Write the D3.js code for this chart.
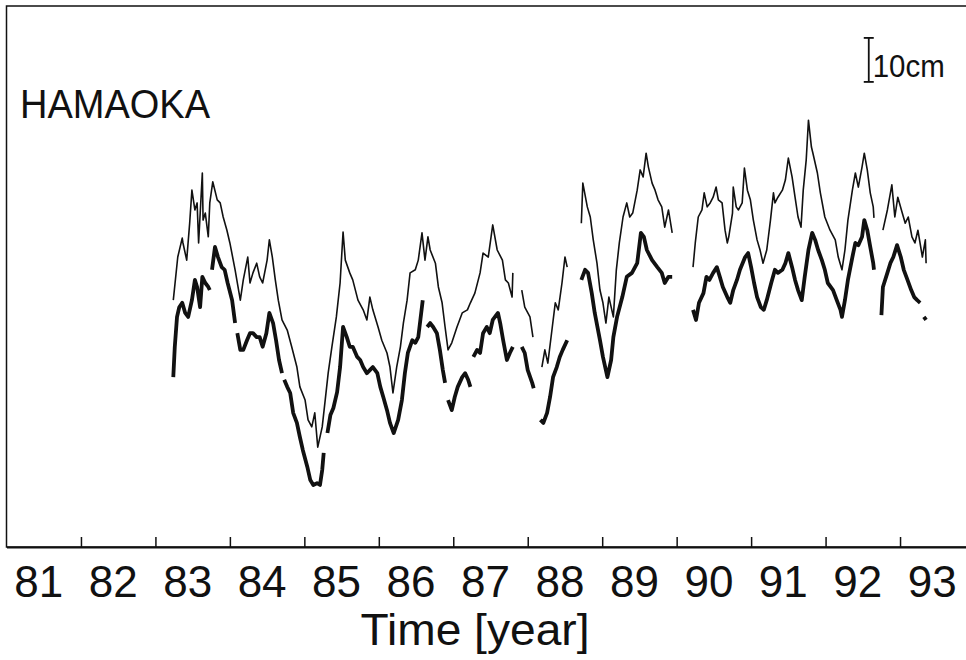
<!DOCTYPE html>
<html lang="en">
<head>
    <meta charset="UTF-8">
    <script src="https://cdn.jsdelivr.net/npm/d3@7/dist/d3.min.js"></script>
    <title>HAMAOKA sea level</title>

    <style>
        body {
            margin: 0;
            background: #fff;
        }
        svg {
            display: block;
            font-family: "Liberation Sans", Arial, Helvetica, sans-serif;
        }
    </style>

</head>
<body>
<script>
// station and labels
let station = "HAMAOKA"
let axisTitle = "Time [year]"
let tickYears = [1981, 1982, 1983, 1984, 1985, 1986, 1987, 1988, 1989, 1990, 1991, 1992, 1993]
let tickLabels = ["81", "82", "83", "84", "85", "86", "87", "88", "89", "90", "91", "92", "93"]
let tickBounds = [1982, 1983, 1984, 1985, 1986, 1987, 1988, 1989, 1990, 1991, 1992, 1993]

// scale bar (cm)
let scaleBarYear = 1992.58
let scaleBarFrom = 105.7
let scaleBarLength = 10
let scaleBarText = "10cm"

// thin trace: [year, level in cm], null = no data
let thinTrace = [
    [1983.24, 56.1], [1983.30, 65.9], [1983.36, 70.2], [1983.37, 69.1], [1983.42, 65.2], [1983.46, 73.6],
    [1983.49, 81.1], [1983.53, 76.6], [1983.56, 78.2], [1983.58, 69.1], [1983.63, 85.0], [1983.64, 74.3],
    [1983.67, 75.9], [1983.71, 70.5], [1983.73, 78.2], [1983.77, 83.0], [1983.83, 78.9], [1983.87, 78.2],
    [1983.91, 75.0], [1983.96, 72.0], [1984.00, 69.1], [1984.07, 63.0], [1984.14, 56.1], [1984.18, 60.7],
    [1984.24, 65.9], [1984.27, 60.0], [1984.31, 62.3], [1984.36, 64.5], [1984.40, 61.4], [1984.44, 60.0],
    [1984.50, 65.2], [1984.53, 69.8], [1984.57, 65.9], [1984.61, 60.7], [1984.65, 56.1], [1984.70, 51.6],
    [1984.77, 49.3], [1984.83, 45.5], [1984.90, 40.9], [1984.94, 36.4], [1985.01, 33.4], [1985.05, 28.9],
    [1985.10, 27.3], [1985.14, 30.5], [1985.18, 22.7], [1985.24, 27.3], [1985.28, 33.4], [1985.32, 39.5],
    [1985.37, 45.5], [1985.43, 52.3], [1985.48, 60.0], [1985.52, 71.6], [1985.55, 65.2], [1985.61, 62.3],
    [1985.65, 60.7], [1985.72, 56.1], [1985.79, 53.9], [1985.84, 51.6], [1985.88, 56.8], [1985.92, 53.9],
    [1985.99, 50.0], [1986.04, 47.0], [1986.11, 44.1], [1986.15, 40.9], [1986.19, 35.0], [1986.24, 40.9],
    [1986.29, 45.5], [1986.33, 50.9], [1986.38, 56.1], [1986.42, 62.3], [1986.49, 63.0], [1986.53, 65.2],
    [1986.58, 71.4], [1986.62, 65.2], [1986.66, 70.5], [1986.69, 67.5], [1986.76, 64.5], [1986.80, 59.1],
    [1986.85, 55.5], [1986.89, 50.0], [1986.93, 44.8], [1986.98, 46.4], [1987.05, 50.0], [1987.12, 53.2],
    [1987.19, 53.9], [1987.23, 55.5], [1987.29, 57.7], [1987.36, 62.3], [1987.40, 66.8], [1987.47, 65.9],
    [1987.53, 73.2], [1987.59, 67.5], [1987.66, 65.2], [1987.70, 60.7], [1987.74, 60.0], [1987.79, 56.8],
    [1987.80, 62.3],
    null,
    [1987.92, 58.4], [1987.96, 54.5], [1988.03, 52.3], [1988.07, 47.7],
    null,
    [1988.19, 40.9], [1988.23, 44.8], [1988.27, 41.8], [1988.33, 50.0], [1988.37, 55.5], [1988.41, 53.9],
    [1988.46, 60.0], [1988.50, 65.9], [1988.53, 63.6],
    null,
    [1988.72, 73.6], [1988.74, 82.7], [1988.80, 77.3], [1988.84, 75.0], [1988.88, 69.8], [1988.93, 64.5],
    [1988.97, 58.4], [1989.01, 55.5], [1989.05, 50.9], [1989.09, 56.8], [1989.15, 52.3], [1989.19, 63.0],
    [1989.23, 69.1], [1989.28, 75.0], [1989.33, 78.2], [1989.37, 75.0], [1989.41, 75.9], [1989.47, 81.1],
    [1989.51, 85.7], [1989.55, 84.1], [1989.59, 89.5], [1989.62, 86.4], [1989.67, 82.7], [1989.71, 81.1],
    [1989.75, 78.9], [1989.80, 77.3], [1989.84, 72.7], [1989.89, 76.6], [1989.94, 71.4],
    null,
    [1990.22, 63.6], [1990.25, 69.1], [1990.29, 75.0], [1990.34, 76.6], [1990.37, 80.5], [1990.41, 77.3],
    [1990.45, 78.2], [1990.49, 79.5], [1990.53, 81.8], [1990.56, 78.9], [1990.61, 78.2], [1990.65, 72.0],
    [1990.68, 69.1], [1990.70, 70.5], [1990.75, 75.9], [1990.76, 81.8], [1990.80, 77.3], [1990.83, 76.6],
    [1990.88, 78.2], [1990.91, 86.1], [1990.95, 81.1], [1990.99, 78.9], [1991.03, 74.3], [1991.08, 69.8],
    [1991.12, 67.5], [1991.16, 64.5], [1991.21, 67.5], [1991.26, 74.3], [1991.30, 80.5], [1991.32, 78.2],
    [1991.36, 79.5], [1991.42, 81.1], [1991.46, 83.4], [1991.50, 88.4], [1991.55, 84.1], [1991.59, 79.5],
    [1991.63, 75.0], [1991.67, 72.7], [1991.70, 81.1], [1991.74, 88.0], [1991.77, 97.0], [1991.81, 90.9],
    [1991.83, 89.5], [1991.89, 85.0], [1991.93, 80.5], [1991.99, 75.0], [1992.06, 72.0], [1992.13, 69.8],
    [1992.17, 65.9], [1992.22, 63.0], [1992.26, 67.5], [1992.30, 74.3], [1992.36, 81.1], [1992.40, 85.0],
    [1992.44, 81.8], [1992.49, 86.4], [1992.52, 89.5], [1992.56, 85.7], [1992.60, 80.5], [1992.64, 77.3],
    [1992.65, 74.8],
    null,
    [1992.77, 72.0], [1992.83, 76.6], [1992.89, 82.3], [1992.93, 75.0], [1992.97, 79.5], [1993.03, 75.9],
    [1993.07, 73.6], [1993.11, 75.0], [1993.16, 70.5], [1993.20, 69.1], [1993.24, 72.0], [1993.30, 65.9],
    [1993.34, 69.8], [1993.35, 64.5]
]

// thick trace: [year, level in cm], null = no data
let thickTrace = [
    [1983.24, 38.6], [1983.26, 45.5], [1983.29, 52.3], [1983.32, 54.5], [1983.36, 55.5], [1983.40, 53.2],
    [1983.44, 52.3], [1983.49, 56.1], [1983.53, 60.7], [1983.56, 59.1], [1983.60, 54.5], [1983.63, 61.4],
    [1983.67, 60.0], [1983.71, 59.1], [1983.73, 58.4],
    null,
    [1983.76, 63.0], [1983.80, 68.2], [1983.84, 65.9], [1983.89, 63.6], [1983.93, 63.0], [1983.97, 60.0],
    [1984.03, 56.1], [1984.07, 50.9],
    null,
    [1984.10, 48.6], [1984.14, 44.8], [1984.18, 44.8], [1984.23, 47.0], [1984.27, 48.6], [1984.31, 48.6],
    [1984.36, 47.7], [1984.40, 47.7], [1984.44, 45.5], [1984.49, 48.6], [1984.53, 53.2], [1984.58, 50.9],
    [1984.62, 47.0], [1984.66, 42.5], [1984.70, 39.5],
    null,
    [1984.73, 38.0], [1984.77, 36.4], [1984.81, 35.0], [1984.85, 30.5], [1984.90, 28.2], [1984.94, 25.0],
    [1984.98, 22.0], [1985.04, 18.2], [1985.08, 15.2], [1985.12, 14.1], [1985.17, 14.5], [1985.21, 14.1],
    [1985.24, 17.5], [1985.26, 21.4],
    null,
    [1985.31, 25.9], [1985.35, 30.0], [1985.39, 31.6], [1985.44, 35.2], [1985.48, 40.9], [1985.52, 50.0],
    [1985.57, 47.7], [1985.61, 45.5], [1985.65, 45.5], [1985.71, 43.2], [1985.75, 42.5], [1985.79, 40.9],
    [1985.84, 39.5], [1985.88, 40.2], [1985.92, 40.9], [1985.98, 39.5], [1986.02, 36.4], [1986.06, 34.1],
    [1986.11, 31.1], [1986.15, 28.2], [1986.20, 25.9], [1986.26, 28.9], [1986.31, 33.4], [1986.35, 39.5],
    [1986.39, 44.1], [1986.45, 47.0], [1986.49, 46.4], [1986.53, 47.7], [1986.59, 56.1],
    null,
    [1986.65, 50.0], [1986.69, 50.9], [1986.73, 50.0], [1986.78, 48.6], [1986.82, 44.8], [1986.86, 40.2],
    [1986.89, 37.3],
    null,
    [1986.93, 33.4], [1986.98, 31.1], [1987.02, 34.1], [1987.06, 36.4], [1987.12, 38.6], [1987.16, 39.5],
    [1987.20, 38.0], [1987.23, 36.4],
    null,
    [1987.27, 43.2], [1987.32, 44.8], [1987.36, 44.1], [1987.40, 48.6], [1987.45, 50.0], [1987.49, 48.6],
    [1987.53, 51.6], [1987.60, 53.2], [1987.63, 50.9], [1987.67, 47.0], [1987.72, 42.5], [1987.76, 44.1],
    [1987.80, 45.5],
    null,
    [1987.92, 45.5], [1987.96, 44.1], [1988.00, 40.2], [1988.06, 37.3], [1988.08, 36.1],
    null,
    [1988.17, 28.9], [1988.21, 28.2], [1988.26, 30.5], [1988.30, 34.1], [1988.34, 38.6], [1988.39, 40.9],
    [1988.43, 43.2], [1988.47, 44.8], [1988.53, 47.0],
    null,
    [1988.72, 60.7], [1988.77, 63.0], [1988.81, 62.3], [1988.86, 57.7], [1988.90, 53.2], [1988.97, 47.0],
    [1989.01, 43.2], [1989.07, 38.6], [1989.12, 42.5], [1989.15, 47.7], [1989.20, 52.3], [1989.27, 56.8],
    [1989.33, 61.4], [1989.40, 62.3], [1989.47, 64.5], [1989.52, 71.4], [1989.56, 70.5], [1989.60, 67.5],
    [1989.67, 65.2], [1989.74, 63.6], [1989.80, 62.3], [1989.84, 60.0], [1989.89, 61.4], [1989.94, 61.4],
    null,
    [1990.22, 53.9], [1990.26, 51.6], [1990.30, 55.5], [1990.36, 57.7], [1990.40, 61.4], [1990.44, 60.7],
    [1990.49, 62.3], [1990.54, 63.6], [1990.58, 61.4], [1990.62, 59.1], [1990.68, 56.8], [1990.72, 55.5],
    [1990.76, 58.4], [1990.81, 60.7], [1990.85, 63.0], [1990.92, 65.9], [1990.96, 66.8], [1991.00, 63.6],
    [1991.04, 60.0], [1991.08, 56.8], [1991.13, 54.5], [1991.17, 53.9], [1991.21, 56.1], [1991.27, 60.0],
    [1991.32, 63.0], [1991.36, 62.3], [1991.42, 63.0], [1991.46, 64.5], [1991.50, 66.8], [1991.55, 63.6],
    [1991.59, 60.7], [1991.63, 58.4], [1991.68, 56.1], [1991.72, 61.4], [1991.77, 67.5], [1991.82, 71.4],
    [1991.86, 69.8], [1991.90, 67.5], [1991.95, 65.2], [1991.99, 63.0], [1992.03, 60.0], [1992.10, 58.4],
    [1992.15, 56.1], [1992.20, 53.9], [1992.22, 52.3], [1992.26, 56.1], [1992.30, 60.7], [1992.36, 65.9],
    [1992.40, 69.1], [1992.44, 68.6], [1992.49, 70.5], [1992.52, 74.3], [1992.56, 72.0], [1992.60, 68.2],
    [1992.64, 64.5], [1992.65, 63.0],
    null,
    [1992.75, 52.7], [1992.77, 59.1], [1992.83, 62.3], [1992.87, 64.5], [1992.91, 65.9], [1992.96, 68.6],
    [1993.01, 65.9], [1993.05, 63.0], [1993.10, 60.7], [1993.15, 58.4], [1993.19, 56.8], [1993.23, 56.1],
    [1993.27, 55.5],
    null,
    [1993.32, 52.3], [1993.35, 51.6]
]

let width = 966
let height = 660
let frameTop = 6
let ink = "#111"

let svg = d3.select("body").append("svg")
    .attr("width", width)
    .attr("height", height)

// the box runs past the right edge of the page, like the scan
let x = d3.scaleLinear()
    .domain([1981, 1994])
    .range([6.5, 974.5])

let y = d3.scaleLinear()
    .domain([0, 120])
    .range([547, 19])

svg.append("rect")
    .attr("x", x(1981))
    .attr("y", frameTop)
    .attr("width", x(1994) - x(1981))
    .attr("height", y(0) - frameTop)
    .attr("fill", "none")
    .attr("stroke", ink)
    .attr("stroke-width", 1.5)

let axis = d3.axisBottom(x)
    .tickValues(tickBounds)
    .tickSizeInner(-10)
    .tickSizeOuter(0)
    .tickFormat("")

svg.append("g")
    .attr("transform", `translate(0,${y(0)})`)
    .call(axis)
    .call(g => g.select(".domain").attr("stroke", ink).attr("stroke-width", 2.2))
    .call(g => g.selectAll(".tick line").attr("stroke", ink).attr("stroke-width", 1.5))

// year labels sit in the middle of each year
svg.selectAll(".year")
    .data(tickYears)
    .join("text")
    .attr("class", "year")
    .attr("x", d => x(d + 0.5) - 5)
    .attr("y", 597)
    .attr("text-anchor", "middle")
    .attr("font-size", 44)
    .attr("fill", ink)
    .text((d, i) => tickLabels[i])

svg.append("text")
    .attr("x", 475)
    .attr("y", 645)
    .attr("text-anchor", "middle")
    .attr("font-size", 44)
    .attr("textLength", 229)
    .attr("lengthAdjust", "spacingAndGlyphs")
    .attr("fill", ink)
    .text(axisTitle)

svg.append("text")
    .attr("x", 20)
    .attr("y", 118)
    .attr("font-size", 41)
    .attr("textLength", 190)
    .attr("lengthAdjust", "spacingAndGlyphs")
    .attr("fill", ink)
    .text(station)

let line = d3.line()
    .defined(d => d !== null)
    .x(d => x(d[0]))
    .y(d => y(d[1]))

svg.append("path")
    .attr("d", line(thickTrace))
    .attr("fill", "none")
    .attr("stroke", ink)
    .attr("stroke-width", 3.8)
    .attr("stroke-linejoin", "round")

svg.append("path")
    .attr("d", line(thinTrace))
    .attr("fill", "none")
    .attr("stroke", ink)
    .attr("stroke-width", 1.6)
    .attr("stroke-linejoin", "round")

// 10 cm scale bar
let bx = x(scaleBarYear)
let bar = svg.append("g")
    .attr("stroke", ink)
    .attr("stroke-width", 1.8)
bar.append("line")
    .attr("x1", bx).attr("x2", bx)
    .attr("y1", y(scaleBarFrom)).attr("y2", y(scaleBarFrom + scaleBarLength))
bar.selectAll(".cap")
    .data([scaleBarFrom, scaleBarFrom + scaleBarLength])
    .join("line")
    .attr("x1", bx - 5).attr("x2", bx + 5)
    .attr("y1", d => y(d)).attr("y2", d => y(d))

svg.append("text")
    .attr("x", bx + 4)
    .attr("y", 77)
    .attr("font-size", 31)
    .attr("textLength", 72)
    .attr("lengthAdjust", "spacingAndGlyphs")
    .attr("fill", ink)
    .text(scaleBarText)

</script>
</body>
</html>
